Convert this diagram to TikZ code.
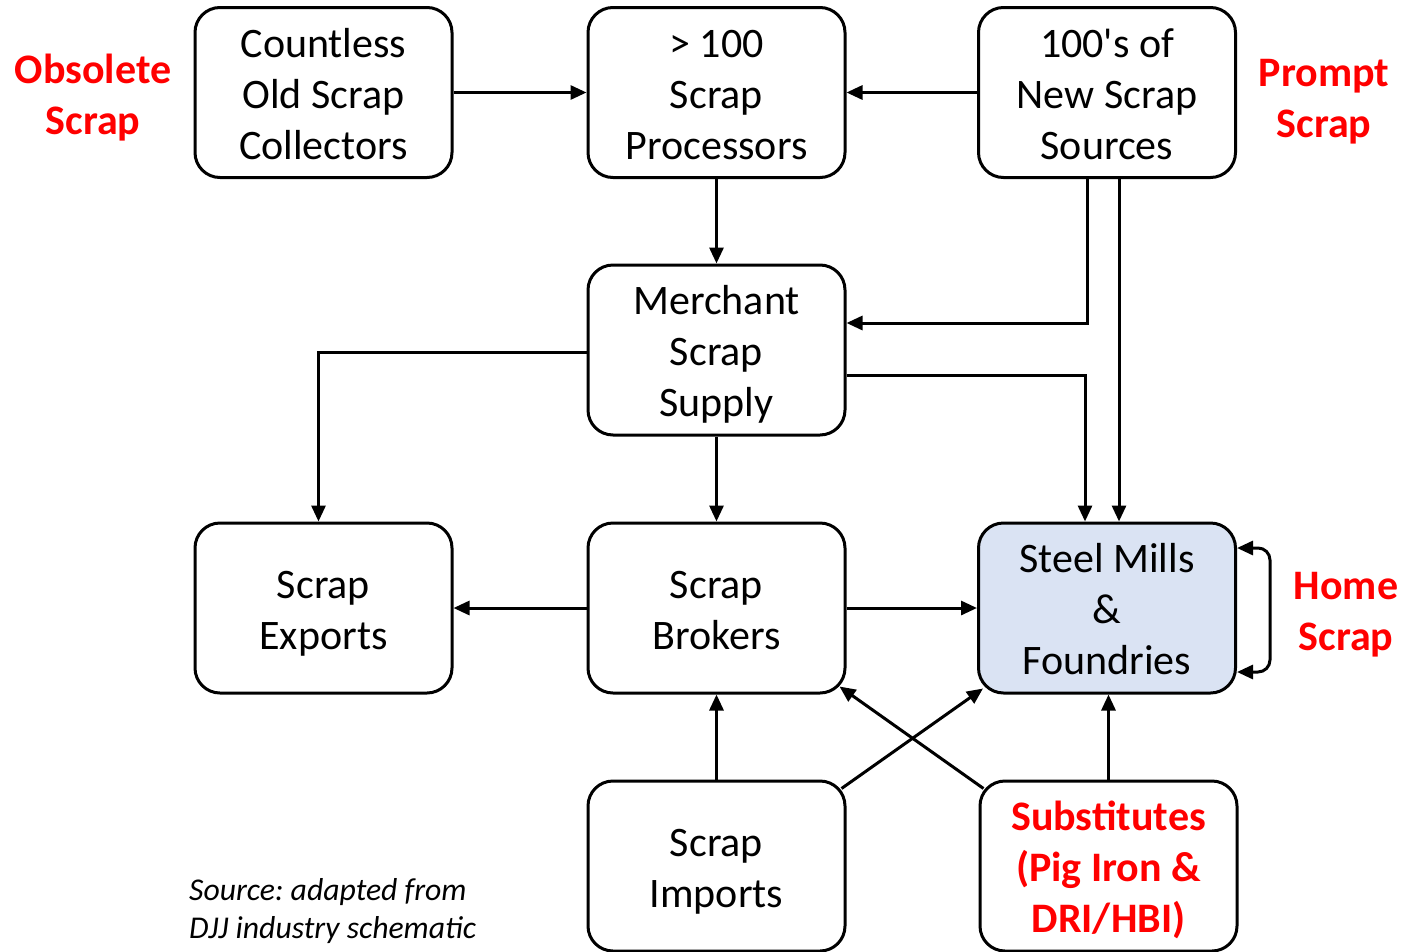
\documentclass[tikz,border=0pt]{standalone}
\usepackage{fontspec}
\setmainfont{Carlito}[Ligatures=TeXOff]
\usetikzlibrary{arrows.meta}
\definecolor{millblue}{HTML}{DAE3F3}
\definecolor{lblred}{HTML}{FF0000}
\newcommand\stl{\rule[-0.2em]{0pt}{1.16em}}
\frenchspacing
\tikzset{
  box/.style={draw, line width=3pt, rounded corners=25pt, minimum width=257pt, minimum height=170pt, align=center, inner sep=2pt, font=\fontsize{42}{51}\selectfont},
  flow/.style={line width=3pt, -{Triangle[length=16pt,width=14pt]}},
  redlbl/.style={text=lblred, align=center, font=\fontsize{42}{51}\selectfont\bfseries},
}
\begin{document}
\begin{tikzpicture}[x=1pt,y=-1pt]
\useasboundingbox (0,0) rectangle (1422,951);
\node[box] (coll) at (323.5,92.5) {\stl Countless\\\stl Old Scrap\\\stl Collectors};
\node[box] (proc) at (716.5,92.5) {\stl > 100\\\stl Scrap\\\stl Processors};
\node[box] (news) at (1107,92.5) {\stl 100's of\\\stl New Scrap\\\stl Sources};
\node[box] (merch) at (716.5,350) {\stl Merchant\\\stl Scrap\\\stl Supply};
\node[box] (exp) at (323.5,608) {\stl Scrap\\\stl Exports};
\node[box] (brok) at (716.5,608) {\stl Scrap\\\stl Brokers};
\node[box, fill=millblue] (mill) at (1107,608) {\stl Steel Mills\\\stl \&\\\stl Foundries};
\node[box] (imp) at (716.5,866) {\stl Scrap\\\stl Imports};
\node[box, text=lblred, font=\fontsize{42}{51}\selectfont\bfseries] (sub) at (1108.5,866) {\stl Substitutes\\\stl (Pig Iron \&\\\stl DRI/HBI)};

\node[redlbl] (obs) at (93,93.4) {\stl Obsolete\\\stl Scrap};
\node[redlbl] (prm) at (1324,96.4) {\stl Prompt\\\stl Scrap};
\node[redlbl] (hom) at (1346,609.4) {\stl Home\\\stl Scrap};
\node[anchor=west, align=left, inner sep=0pt, font=\fontsize{31.7}{38}\selectfont\itshape] (src) at (189,911.5) {Source: adapted from\\DJJ industry schematic};

\draw[flow] (coll.east) -- (proc.west);
\draw[flow] (news.west) -- (proc.east);
\draw[flow] (proc.south) -- (merch.north);
\draw[flow] ([xshift=-20pt]news.south) |- ([yshift=27pt]merch.east);
\draw[flow] ([xshift=12pt]news.south) -- ([xshift=12pt]mill.north);
\draw[flow] ([yshift=-25pt]merch.east) -| ([xshift=-22pt]mill.north);
\draw[flow] ([yshift=-2.5pt]merch.west) -| ([xshift=-5pt]exp.north);
\draw[flow] (merch.south) -- (brok.north);
\draw[flow] (brok.west) -- (exp.east);
\draw[flow] (brok.east) -- (mill.west);
\draw[flow] (imp.north) -- (brok.south);
\draw[flow] ([shift={(-5pt,-9pt)}]imp.north east) -- ([shift={(6pt,6pt)}]mill.south west);
\draw[flow] ([shift={(5pt,-9pt)}]sub.north west) -- ([shift={(-7pt,8pt)}]brok.south east);
\draw[flow] (sub.north) -- (sub.north |- mill.south);
\coordinate (hr) at ([xshift=33pt,yshift=-64pt]mill.east);
\draw[line width=3pt, {Triangle[length=16pt,width=14pt]}-{Triangle[length=16pt,width=14pt]}, rounded corners=12pt]
  ([yshift=60pt]mill.east) -| (hr) -- ([yshift=-64pt]mill.east);
\end{tikzpicture}
\end{document}
